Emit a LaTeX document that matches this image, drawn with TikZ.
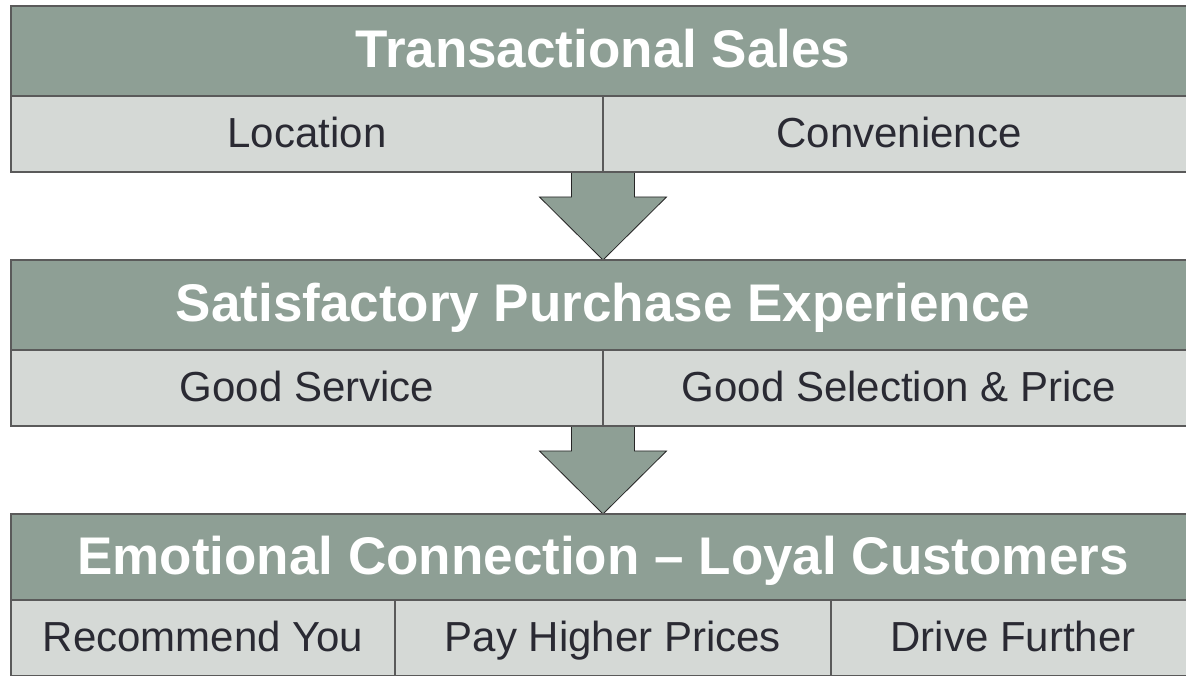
\documentclass[tikz,border=0pt]{standalone}
\usepackage{fontspec}
\setmainfont{Liberation Sans}
\usetikzlibrary{calc,backgrounds}
\definecolor{sage}{HTML}{8E9F95}
\definecolor{mist}{HTML}{D5D9D6}
\definecolor{rule}{HTML}{5A5A5A}
\definecolor{ink}{HTML}{2A2A33}
\newlength\barwidth
\setlength\barwidth{1184pt}
\newlength\barheight
\setlength\barheight{90pt}
\newlength\cellheight
\setlength\cellheight{76pt}

\begin{document}
\begin{tikzpicture}[x=1pt,y=1pt,
    head/.style={draw=rule, line width=1.5pt, fill=sage, text=white,
      anchor=north west, inner sep=0pt, outer sep=0pt,
      minimum width=\barwidth, minimum height=\barheight,
      text height=38pt, text depth=4pt,
      font=\fontsize{53}{60}\selectfont\bfseries},
    cell/.style={draw=rule, line width=1.5pt, fill=mist, text=ink,
      anchor=north west, inner sep=0pt, outer sep=0pt,
      minimum height=\cellheight, text height=30pt, text depth=2pt,
      font=\fontsize{42}{48}\selectfont},
    blockarrow/.style={draw=black!85, line width=0.8pt, fill=sage}]
    \clip (0,0) rectangle (1186,676);

    % top block
    \node[head] (sales) at (11,670) {Transactional Sales};
    \node[cell, minimum width=592pt] (location) at (sales.south west) {Location};
    \node[cell, minimum width=592pt] (convenience) at (location.north east) {Convenience};

    % middle block
    \node[head] (experience) at (11,416) {Satisfactory Purchase Experience};
    \node[cell, minimum width=592pt] (service) at (experience.south west) {Good Service};
    \node[cell, minimum width=592pt] (selection) at (service.north east) {Good Selection \& Price};

    % bottom block, runs off the lower edge
    \node[head, minimum height=86pt, text depth=2pt] (loyal) at (11,162) {Emotional Connection -- Loyal Customers};
    \begin{scope}[every node/.append style={minimum height=82pt, text depth=8pt}]
      \node[cell, minimum width=384pt] (recommend) at (loyal.south west) {Recommend You};
      \node[cell, minimum width=436pt] (prices) at (recommend.north east) {Pay Higher Prices};
      \node[cell, minimum width=364pt] (further) at (prices.north east) {Drive Further};
    \end{scope}

    % arrows between the blocks
    \begin{scope}[on background layer]
      \foreach \src/\dst in {location/experience, service/loyal} {
        \draw[blockarrow] ($(\src.south east)+(-31.5,2)$) -- ++(0,-27)
          -- ++(-32,0) -- (\dst.north) -- ++(63.5,63) -- ++(-32,0)
          -- ($(\src.south east)+(31.5,2)$) -- cycle;
      }
    \end{scope}
\end{tikzpicture}
\end{document}
